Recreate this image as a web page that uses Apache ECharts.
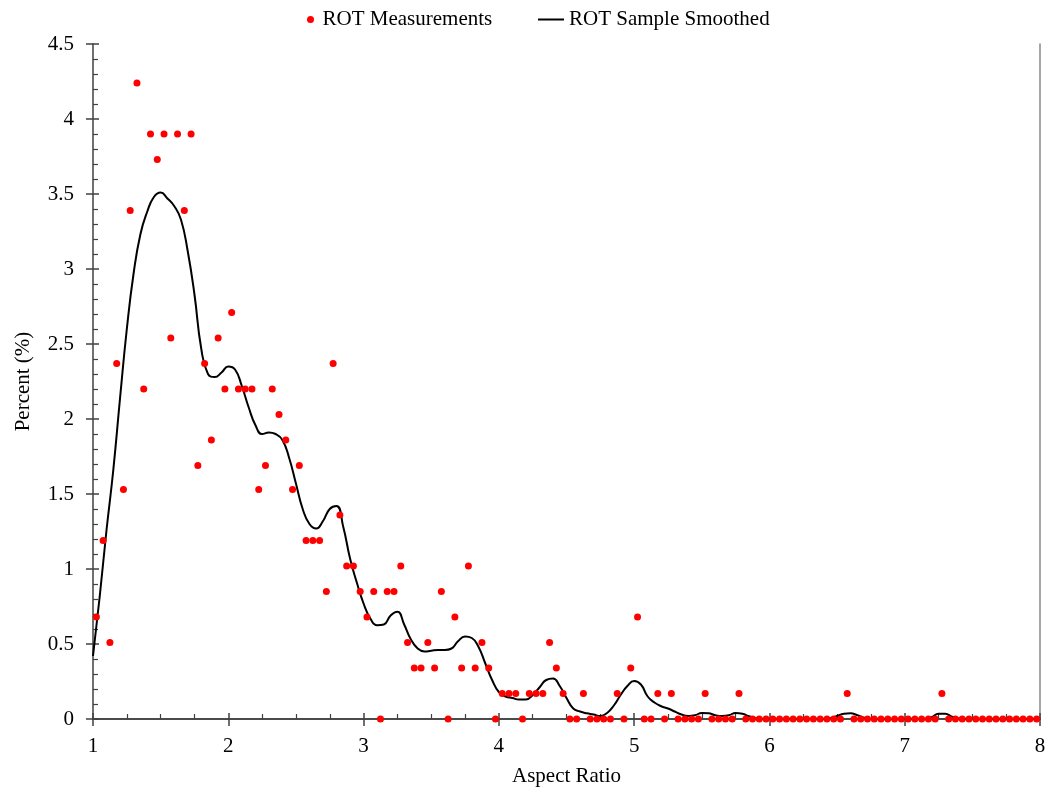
<!DOCTYPE html>
<html>
<head>
<meta charset="utf-8">
<script src="https://cdn.jsdelivr.net/npm/echarts@6/dist/echarts.min.js"></script>
<style>
    html, body { margin: 0; padding: 0; background: #fff; }
    #chart_ratio { width: 1049px; height: 789px; }
</style>
</head>
<body>
<div id="chart_ratio"></div>
<script>
// bin centres (aspect ratio) of the measurements
var ratio_bins = [
    1.025, 1.075, 1.125, 1.175, 1.225, 1.275, 1.325, 1.375, 1.425, 1.475,
    1.525, 1.575, 1.625, 1.675, 1.725, 1.775, 1.825, 1.875, 1.925, 1.975,
    2.025, 2.075, 2.125, 2.175, 2.225, 2.275, 2.325, 2.375, 2.425, 2.475,
    2.525, 2.575, 2.625, 2.675, 2.725, 2.775, 2.825, 2.875, 2.925, 2.975,
    3.025, 3.075, 3.125, 3.175, 3.225, 3.275, 3.325, 3.375, 3.425, 3.475,
    3.525, 3.575, 3.625, 3.675, 3.725, 3.775, 3.825, 3.875, 3.925, 3.975,
    4.025, 4.075, 4.125, 4.175, 4.225, 4.275, 4.325, 4.375, 4.425, 4.475,
    4.525, 4.575, 4.625, 4.675, 4.725, 4.775, 4.825, 4.875, 4.925, 4.975,
    5.025, 5.075, 5.125, 5.175, 5.225, 5.275, 5.325, 5.375, 5.425, 5.475,
    5.525, 5.575, 5.625, 5.675, 5.725, 5.775, 5.825, 5.875, 5.925, 5.975,
    6.025, 6.075, 6.125, 6.175, 6.225, 6.275, 6.325, 6.375, 6.425, 6.475,
    6.525, 6.575, 6.625, 6.675, 6.725, 6.775, 6.825, 6.875, 6.925, 6.975,
    7.025, 7.075, 7.125, 7.175, 7.225, 7.275, 7.325, 7.375, 7.425, 7.475,
    7.525, 7.575, 7.625, 7.675, 7.725, 7.775, 7.825, 7.875, 7.925, 7.975
];

// 测量值 (%)
var measured_pct = [
    0.68, 1.19, 0.51, 2.37, 1.53, 3.39, 4.24, 2.20, 3.90, 3.73,
    3.90, 2.54, 3.90, 3.39, 3.90, 1.69, 2.37, 1.86, 2.54, 2.20,
    2.71, 2.20, 2.20, 2.20, 1.53, 1.69, 2.20, 2.03, 1.86, 1.53,
    1.69, 1.19, 1.19, 1.19, 0.85, 2.37, 1.36, 1.02, 1.02, 0.85,
    0.68, 0.85, 0, 0.85, 0.85, 1.02, 0.51, 0.34, 0.34, 0.51,
    0.34, 0.85, 0, 0.68, 0.34, 1.02, 0.34, 0.51, 0.34, 0,
    0.17, 0.17, 0.17, 0, 0.17, 0.17, 0.17, 0.51, 0.34, 0.17,
    0, 0, 0.17, 0, 0, 0, 0, 0.17, 0, 0.34,
    0.68, 0, 0, 0.17, 0, 0.17, 0, 0, 0, 0,
    0.17, 0, 0, 0, 0, 0.17, 0, 0, 0, 0,
    0, 0, 0, 0, 0, 0, 0, 0, 0, 0,
    0, 0.17, 0, 0, 0, 0, 0, 0, 0, 0,
    0, 0, 0, 0, 0, 0.17, 0, 0, 0, 0,
    0, 0, 0, 0, 0, 0, 0, 0, 0, 0
];

// 平滑曲线
var smooth_x = [
    1.00, 1.05, 1.10, 1.15, 1.20, 1.25, 1.30, 1.35, 1.40, 1.45,
    1.50, 1.55, 1.60, 1.65, 1.70, 1.75, 1.80, 1.85, 1.90, 1.95,
    2.00, 2.05, 2.10, 2.15, 2.20, 2.25, 2.30, 2.35, 2.40, 2.45,
    2.50, 2.55, 2.60, 2.65, 2.70, 2.75, 2.80, 2.85, 2.90, 2.95,
    3.00, 3.05, 3.10, 3.15, 3.20, 3.25, 3.30, 3.35, 3.40, 3.45,
    3.50, 3.55, 3.60, 3.65, 3.70, 3.75, 3.80, 3.85, 3.90, 3.95,
    4.00, 4.05, 4.10, 4.15, 4.20, 4.25, 4.30, 4.35, 4.40, 4.45,
    4.50, 4.55, 4.60, 4.65, 4.70, 4.75, 4.80, 4.85, 4.90, 4.95,
    5.00, 5.05, 5.10, 5.15, 5.20, 5.25, 5.30, 5.35, 5.40, 5.45,
    5.50, 5.55, 5.60, 5.65, 5.70, 5.75, 5.80, 5.85, 5.90, 5.95,
    6.00, 6.40, 6.45, 6.50, 6.55, 6.60, 6.65, 6.70, 6.75, 7.10,
    7.15, 7.20, 7.25, 7.30, 7.35, 7.40, 7.45, 8.00
];
var smooth_y = [
    0.42, 0.82, 1.26, 1.66, 2.14, 2.60, 2.97, 3.23, 3.38, 3.48,
    3.51, 3.47, 3.42, 3.33, 3.12, 2.83, 2.47, 2.30, 2.28, 2.31,
    2.35, 2.33, 2.22, 2.08, 1.96, 1.90, 1.91, 1.90, 1.86, 1.74,
    1.57, 1.40, 1.30, 1.27, 1.32, 1.40, 1.42, 1.28, 1.07, 0.91,
    0.77, 0.67, 0.625, 0.63, 0.69, 0.715, 0.63, 0.53, 0.47, 0.45,
    0.455, 0.46, 0.46, 0.47, 0.52, 0.55, 0.54, 0.48, 0.37, 0.26,
    0.18, 0.15, 0.14, 0.13, 0.13, 0.16, 0.21, 0.26, 0.27, 0.22,
    0.14, 0.07, 0.05, 0.038, 0.03, 0.02, 0.04, 0.09, 0.16, 0.22,
    0.253, 0.23, 0.15, 0.11, 0.085, 0.07, 0.05, 0.03, 0.02, 0.025,
    0.04, 0.038, 0.025, 0.02, 0.025, 0.04, 0.035, 0.018, 0.005, 0,
    0, 0, 0.005, 0.02, 0.035, 0.038, 0.025, 0.008, 0, 0,
    0, 0.012, 0.035, 0.035, 0.015, 0.003, 0, 0
];

var x_ticks = [1, 8, 1];
var y_ticks = [0, 4.5, 0.5];

var scatter_data = ratio_bins.map(function (x, i) { return [x, measured_pct[i]]; });
var smooth_data = smooth_x.map(function (x, i) { return [x, smooth_y[i]]; });

var font = {
    fontFamily: '"Liberation Serif", "Times New Roman", serif',
    fontSize: 21,
    color: '#000'
};
var axis_color = '#404040';

var chart_ratio = echarts.init(document.getElementById("chart_ratio"));

var chart_ratio_option = {
    animation: false,
    textStyle: { fontFamily: font.fontFamily },
    legend: [{
            data: ['ROT Measurements'],
            left: 302,
            top: 4,
            icon: 'circle',
            itemWidth: 14,
            itemHeight: 7,
            textStyle: font
        },
        {
            data: ['ROT Sample Smoothed'],
            left: 533,
            top: 4,
            icon: 'rect',
            itemWidth: 26,
            itemHeight: 2,
            textStyle: font
        }
    ],
    grid: [{
            left: 93,
            right: 9,
            top: 44,
            bottom: 70,
            containLabel: false,
            outerBoundsMode: 'none'
        },
        {
            left: 93,
            right: 9,
            top: 44,
            bottom: 70,
            containLabel: false,
            outerBoundsMode: 'none'
        }
    ],
    xAxis: [{
            gridIndex: 0,
            type: 'value',
            min: x_ticks[0],
            max: x_ticks[1],
            interval: x_ticks[2],
            position: 'bottom',
            name: 'Aspect Ratio',
            nameLocation: 'middle',
            nameGap: 47,
            nameTextStyle: font,
            axisLine: { lineStyle: { color: axis_color, width: 1.5 } },
            axisTick: { inside: false, length: 7, lineStyle: { color: axis_color, width: 1.5 } },
            axisLabel: { margin: 17, fontSize: font.fontSize, fontFamily: font.fontFamily, color: '#000' },
            splitLine: { show: false }
        },
        {
            gridIndex: 0,
            type: 'value',
            min: x_ticks[0],
            max: x_ticks[1],
            position: 'top',
            axisLine: { show: true, lineStyle: { color: axis_color, width: 1.5 } },
            axisTick: { show: false },
            axisLabel: { show: false },
            splitLine: { show: false }
        },
        {
            gridIndex: 1,
            type: 'value',
            min: x_ticks[0],
            max: x_ticks[1],
            interval: x_ticks[2],
            position: 'bottom',
            axisLine: { show: false },
            axisTick: { inside: true, length: 6, lineStyle: { color: axis_color, width: 1.5 } },
            minorTick: { show: true, splitNumber: 4, length: 5, lineStyle: { color: axis_color, width: 1.2 } },
            axisLabel: { show: false },
            splitLine: { show: false }
        }
    ],
    yAxis: [{
            gridIndex: 0,
            type: 'value',
            min: y_ticks[0],
            max: y_ticks[1],
            interval: y_ticks[2],
            position: 'left',
            name: 'Percent (%)',
            nameLocation: 'middle',
            nameGap: 59,
            nameTextStyle: font,
            axisLine: { show: true, lineStyle: { color: axis_color, width: 1.5 } },
            axisTick: { show: true, inside: false, length: 7, lineStyle: { color: axis_color, width: 1.5 } },
            axisLabel: { margin: 19, fontSize: font.fontSize, fontFamily: font.fontFamily, color: '#000' },
            splitLine: { show: false }
        },
        {
            gridIndex: 0,
            type: 'value',
            min: y_ticks[0],
            max: y_ticks[1],
            position: 'right',
            axisLine: { show: true, lineStyle: { color: '#8a8a8a', width: 1.5 } },
            axisTick: { show: false },
            axisLabel: { show: false },
            splitLine: { show: false }
        },
        {
            gridIndex: 1,
            type: 'value',
            min: y_ticks[0],
            max: y_ticks[1],
            interval: y_ticks[2],
            position: 'left',
            axisLine: { show: false },
            axisTick: { show: true, inside: true, length: 6, lineStyle: { color: axis_color, width: 1.5 } },
            minorTick: { show: true, splitNumber: 5, length: 5, lineStyle: { color: axis_color, width: 1.2 } },
            axisLabel: { show: false },
            splitLine: { show: false }
        }
    ],
    series: [{
            name: 'ROT Sample Smoothed',
            type: 'line',
            xAxisIndex: 0,
            yAxisIndex: 0,
            data: smooth_data,
            smooth: 0.5,
            showSymbol: false,
            symbol: 'none',
            itemStyle: { color: '#000' },
            lineStyle: { color: '#000', width: 2 }
        },
        {
            name: 'ROT Measurements',
            type: 'scatter',
            xAxisIndex: 0,
            yAxisIndex: 0,
            data: scatter_data,
            symbolSize: 7,
            itemStyle: { color: '#ff0000', opacity: 1 },
            z: 3
        }
    ]
};

chart_ratio.setOption(chart_ratio_option);
</script>
</body>
</html>
